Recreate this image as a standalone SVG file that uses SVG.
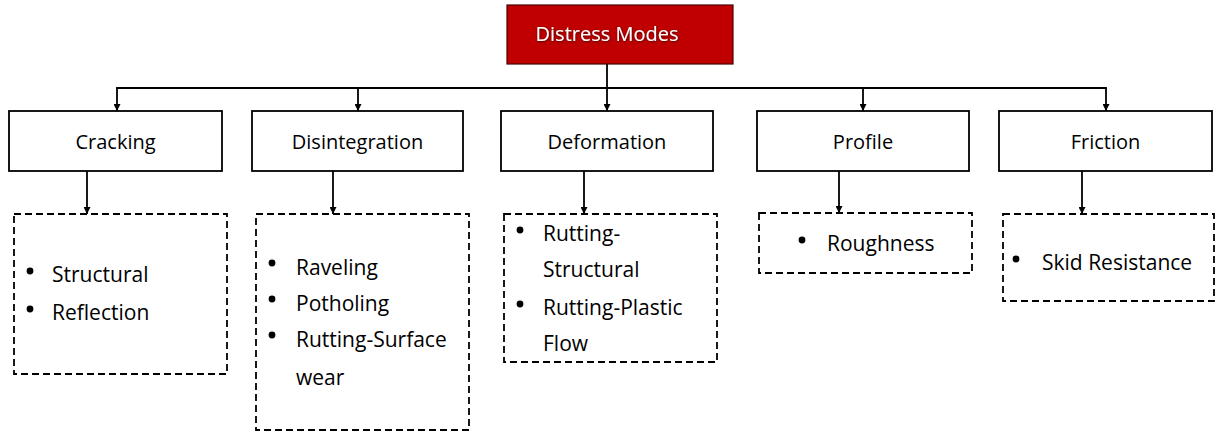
<svg xmlns="http://www.w3.org/2000/svg" width="1216" height="434" viewBox="0 0 1216 434">
<style>
  .box{fill:#fff;stroke:#000;stroke-width:1.8}
  .dash{fill:none;stroke:#000;stroke-width:1.8;stroke-dasharray:7 4}
  .lbl{font-family:"Open Sans","Liberation Sans",sans-serif;font-size:20px;fill:#000;text-anchor:middle;dominant-baseline:central}
  .itm{font-family:"Open Sans","Liberation Sans",sans-serif;font-size:21px;fill:#000;dominant-baseline:central}
  .con{fill:none;stroke:#000;stroke-width:1.8}
  .dot{fill:#000}
</style>
<defs>
  <marker id="ah" viewBox="0 0 10 10" refX="10" refY="5" markerWidth="7" markerHeight="7" markerUnits="userSpaceOnUse" orient="auto">
    <path d="M0,0 L10,5 L0,10 z" fill="#000"/>
  </marker>
  <filter id="glow" x="-10%" y="-30%" width="120%" height="160%">
    <feDropShadow dx="0.5" dy="0.8" stdDeviation="0.8" flood-color="#300000" flood-opacity="0.9"/>
  </filter>
</defs>
<rect width="1216" height="434" fill="#fff"/>

<g id="connectors">
  <line class="con" x1="607" y1="64" x2="607" y2="88"/>
  <line class="con" x1="116.1" y1="88" x2="1106.9" y2="88"/>
  <line class="con" x1="117" y1="88" x2="117" y2="111" marker-end="url(#ah)"/>
  <line class="con" x1="358" y1="88" x2="358" y2="111" marker-end="url(#ah)"/>
  <line class="con" x1="607" y1="88" x2="607" y2="111" marker-end="url(#ah)"/>
  <line class="con" x1="863" y1="88" x2="863" y2="111" marker-end="url(#ah)"/>
  <line class="con" x1="1106" y1="88" x2="1106" y2="111" marker-end="url(#ah)"/>
  <line class="con" x1="87" y1="171" x2="87" y2="214" marker-end="url(#ah)"/>
  <line class="con" x1="333" y1="171" x2="333" y2="214" marker-end="url(#ah)"/>
  <line class="con" x1="584" y1="171" x2="584" y2="214" marker-end="url(#ah)"/>
  <line class="con" x1="839" y1="171" x2="839" y2="213" marker-end="url(#ah)"/>
  <line class="con" x1="1082" y1="171" x2="1082" y2="214" marker-end="url(#ah)"/>
</g>

<g id="distress-modes">
  <rect x="507" y="5" width="226" height="59" fill="#C00000" stroke="#4a0000" stroke-width="1.2"/>
  <text class="lbl" x="607" y="33" style="fill:#fff" filter="url(#glow)">Distress Modes</text>
</g>

<g id="cracking">
  <rect class="box" x="9" y="111" width="213" height="60"/>
  <text class="lbl" x="115.5" y="141">Cracking</text>
</g>
<g id="disintegration">
  <rect class="box" x="252" y="111" width="211" height="60"/>
  <text class="lbl" x="357.5" y="141">Disintegration</text>
</g>
<g id="deformation">
  <rect class="box" x="501" y="111" width="212" height="60"/>
  <text class="lbl" x="607" y="141">Deformation</text>
</g>
<g id="profile">
  <rect class="box" x="757" y="111" width="212" height="60"/>
  <text class="lbl" x="863" y="141">Profile</text>
</g>
<g id="friction">
  <rect class="box" x="999" y="111" width="213" height="60"/>
  <text class="lbl" x="1105.5" y="141">Friction</text>
</g>

<g id="cracking-list">
  <rect class="dash" x="14" y="214" width="213" height="160"/>
  <circle class="dot" cx="30" cy="271" r="3.4"/>
  <text class="itm" x="52" y="274">Structural</text>
  <circle class="dot" cx="30" cy="309" r="3.4"/>
  <text class="itm" x="52" y="312">Reflection</text>
</g>

<g id="disintegration-list">
  <rect class="dash" x="256" y="214" width="213" height="216"/>
  <circle class="dot" cx="272" cy="263" r="3.4"/>
  <text class="itm" x="296" y="267">Raveling</text>
  <circle class="dot" cx="272" cy="299" r="3.4"/>
  <text class="itm" x="296" y="303">Potholing</text>
  <circle class="dot" cx="272" cy="335" r="3.4"/>
  <text class="itm" x="296" y="339">Rutting-Surface</text>
  <text class="itm" x="296" y="377">wear</text>
</g>

<g id="deformation-list">
  <rect class="dash" x="504" y="214" width="213" height="148"/>
  <circle class="dot" cx="520" cy="230" r="3.4"/>
  <text class="itm" x="543" y="233">Rutting-</text>
  <text class="itm" x="543" y="269">Structural</text>
  <circle class="dot" cx="520" cy="304" r="3.4"/>
  <text class="itm" x="543" y="307">Rutting-Plastic</text>
  <text class="itm" x="543" y="343">Flow</text>
</g>

<g id="profile-list">
  <rect class="dash" x="759" y="213" width="213" height="60"/>
  <circle class="dot" cx="802" cy="240" r="3.4"/>
  <text class="itm" x="827" y="243">Roughness</text>
</g>

<g id="friction-list">
  <rect class="dash" x="1003" y="214" width="211" height="87"/>
  <circle class="dot" cx="1016" cy="259" r="3.4"/>
  <text class="itm" x="1042" y="262">Skid Resistance</text>
</g>
</svg>
